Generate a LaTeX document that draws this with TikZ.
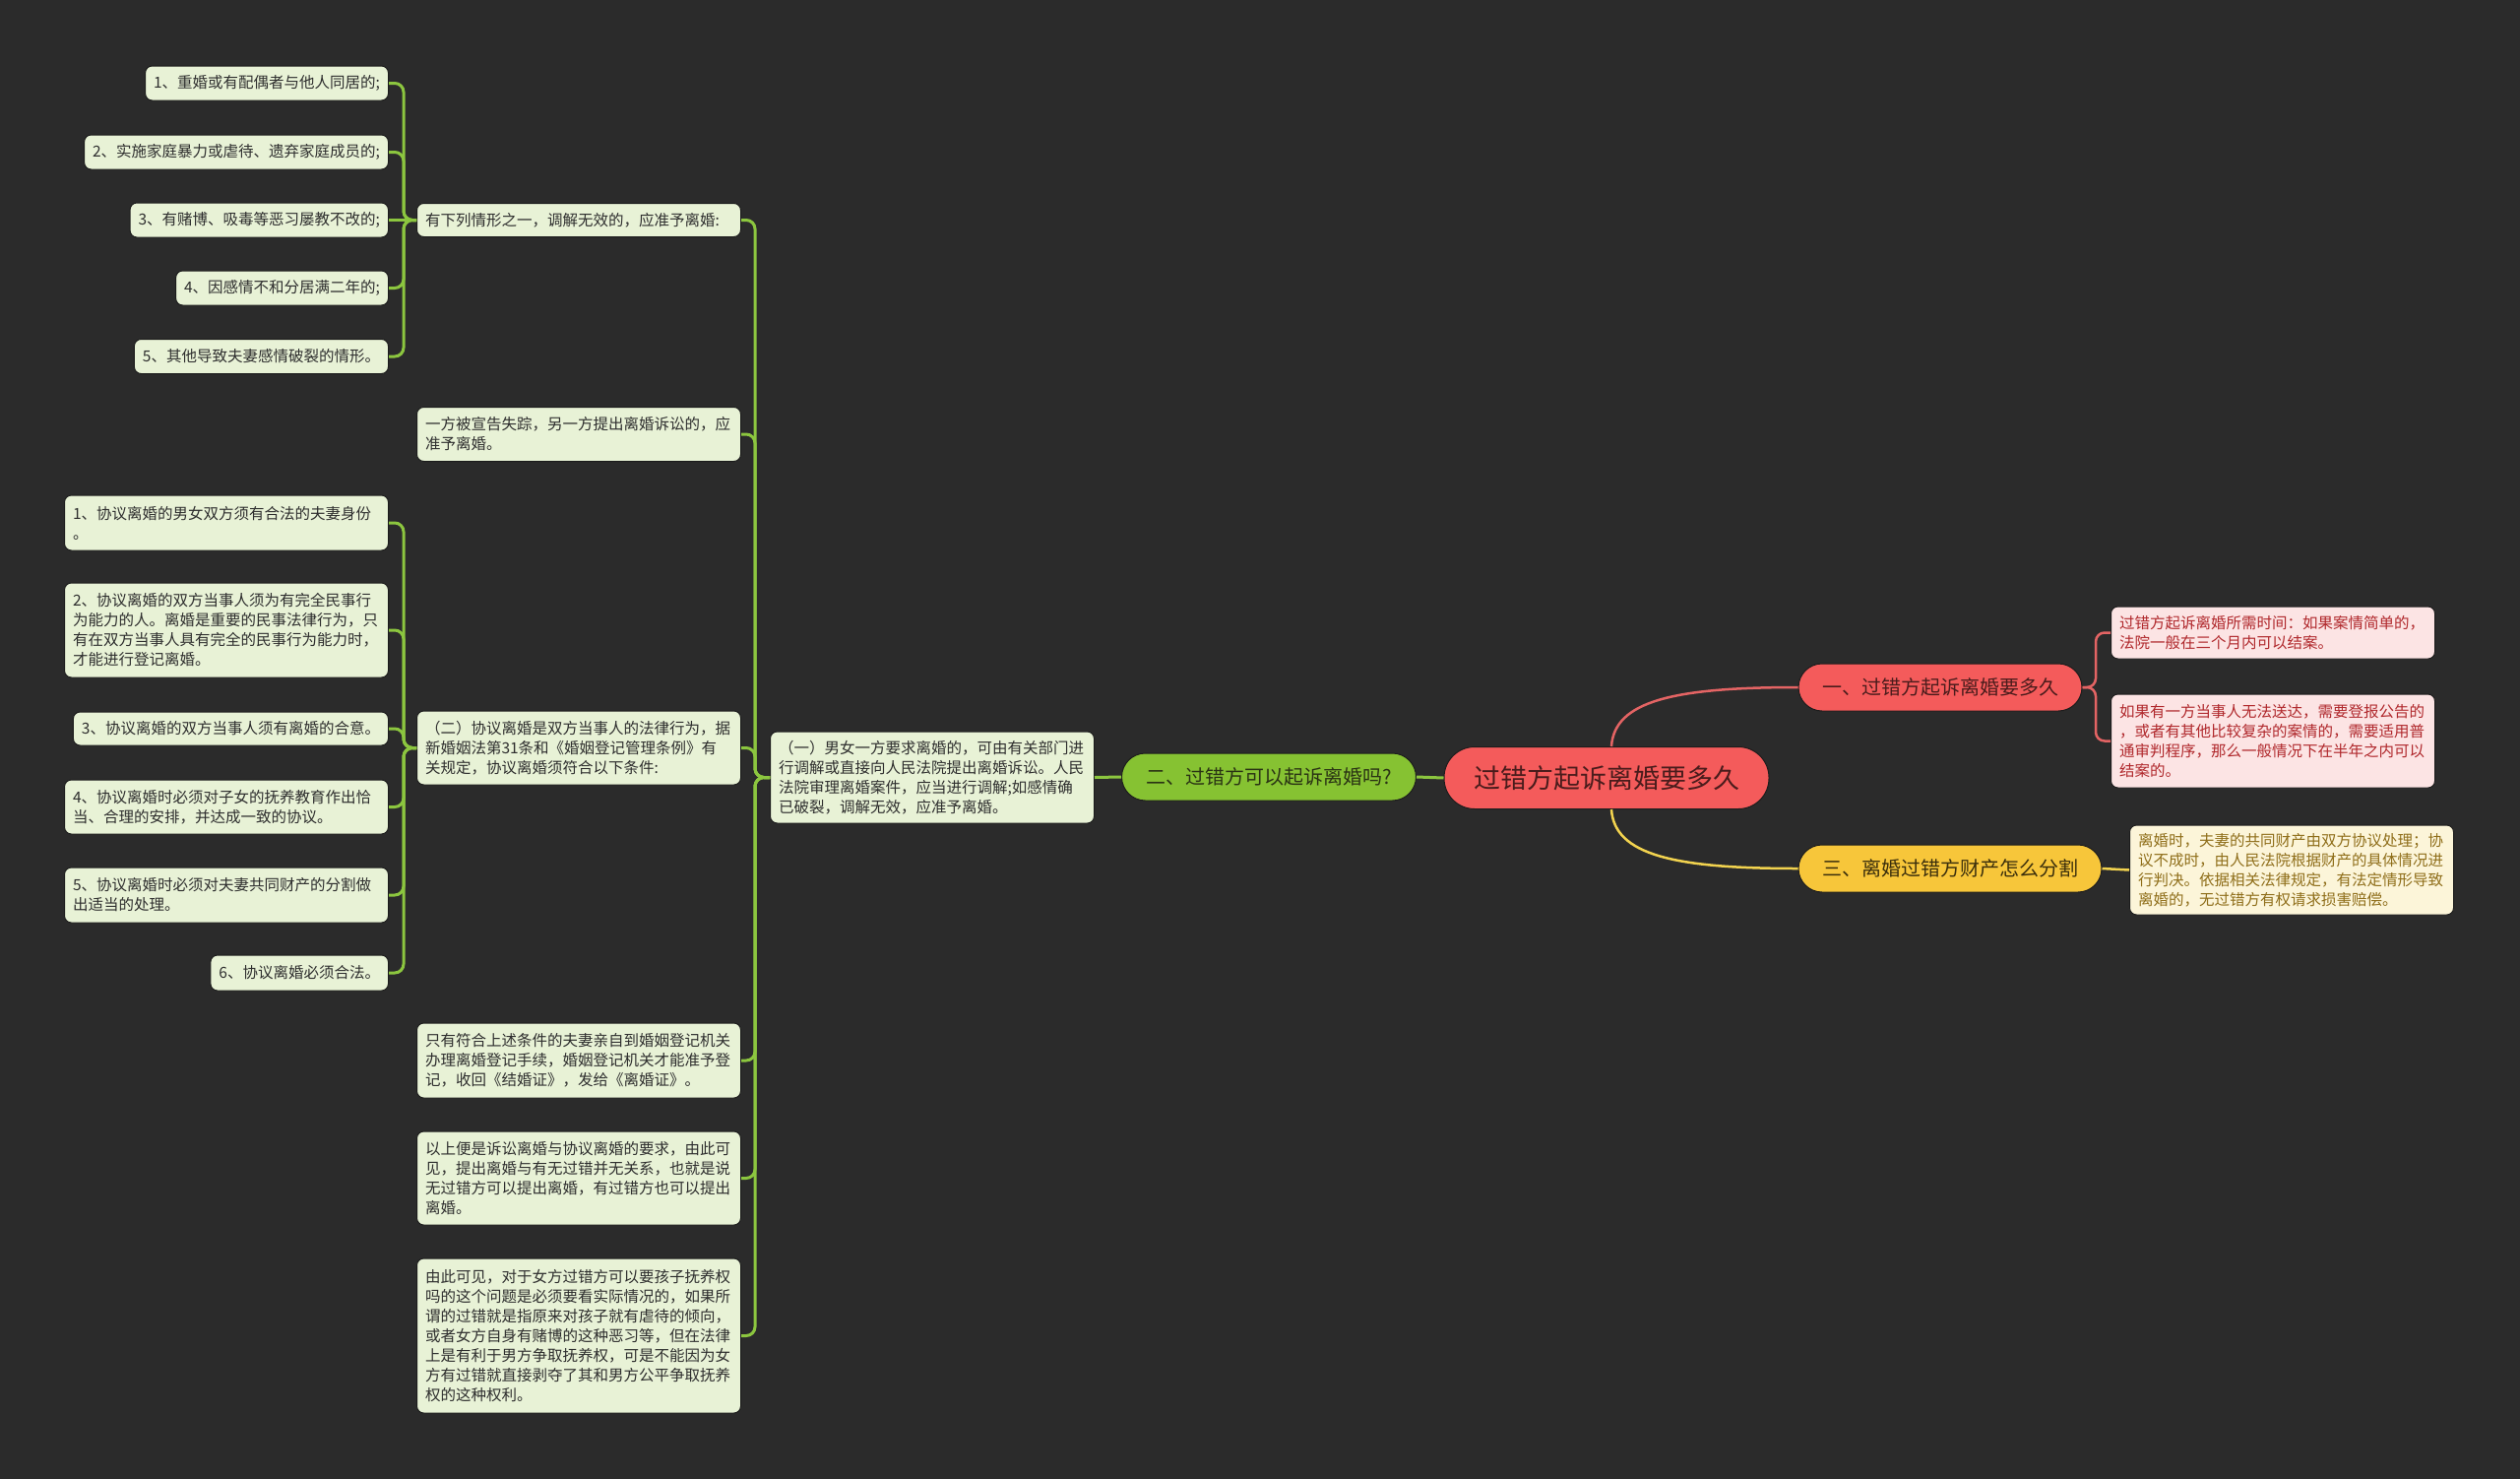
\documentclass[tikz,border=0pt]{standalone}
\usepackage{fontspec}
\setmainfont{Noto Sans CJK SC}
\usetikzlibrary{calc}
\definecolor{bg}{HTML}{2B2B2B}
\definecolor{glinec}{HTML}{8CC63F}
\definecolor{gpill}{HTML}{86C232}
\definecolor{gtext}{HTML}{2A3314}
\definecolor{leafgreen}{HTML}{E8F2D6}
\definecolor{leaftext}{HTML}{2E2E2E}
\definecolor{boxedge}{HTML}{1C1C1C}
\definecolor{rootred}{HTML}{F45B5B}
\definecolor{roottext}{HTML}{4A1C1C}
\definecolor{rlinec}{HTML}{E46464}
\definecolor{redleaf}{HTML}{FCE4E4}
\definecolor{redtext}{HTML}{B0282C}
\definecolor{ypill}{HTML}{F7C63A}
\definecolor{ytext}{HTML}{3A2E0C}
\definecolor{ylinec}{HTML}{F2D34F}
\definecolor{yleaf}{HTML}{FCF5D9}
\definecolor{yleaftext}{HTML}{8F6E1A}
\begin{document}
\begin{tikzpicture}[x=1pt,y=-1pt,
  leaf/.style={fill=leafgreen, draw=boxedge, line width=1pt, rounded corners=7pt,
    text=leaftext, font=\fontsize{15.5}{20}\selectfont, inner xsep=8.5pt, inner ysep=4pt, align=left},
  leafw/.style={leaf, text width=312pt},
  rleaf/.style={leafw, fill=redleaf, text=redtext},
  yleafs/.style={leafw, fill=yleaf, text=yleaftext},
  pill/.style={draw=boxedge, line width=1pt, minimum height=48pt, rounded corners=24pt,
    font=\fontsize{20}{24}\selectfont, inner sep=0pt},
  gline/.style={draw=glinec, line width=3pt, rounded corners=9pt},
  rline/.style={draw=rlinec, line width=2.5pt, rounded corners=9pt},
  yline/.style={draw=ylinec, line width=2.5pt}
]
\useasboundingbox (0,0) rectangle (2560,1502);
\fill[bg] (0,0) rectangle (2560,1502);

% ---- central and main branches
\node[pill, fill=rootred, text=roottext, minimum width=330pt, minimum height=63pt, rounded corners=31pt,
  font=\fontsize{27}{32}\selectfont] (root) at (1632,790) {过错方起诉离婚要多久};
\node[pill, fill=rootred, text=roottext, minimum width=288pt] (b1) at (1971,698) {一、过错方起诉离婚要多久};
\node[pill, fill=ypill, text=ytext, minimum width=308pt] (b3) at (1981,882) {三、离婚过错方财产怎么分割};
\node[pill, fill=gpill, text=gtext, minimum width=299pt] (b2) at (1289,789) {二、过错方可以起诉离婚吗?};

% ---- right leaves
\node[rleaf, anchor=west, minimum height=53pt] (R1) at (2144,642.5) {过错方起诉离婚所需时间：如果案情简单的，\\法院一般在三个月内可以结案。};
\node[rleaf, anchor=west, minimum height=95pt] (R2) at (2144,752.5) {如果有一方当事人无法送达，需要登报公告的\\，或者有其他比较复杂的案情的，需要适用普\\通审判程序，那么一般情况下在半年之内可以\\结案的。};
\node[yleafs, anchor=west, minimum height=91pt] (Y1) at (2163,883.5) {离婚时，夫妻的共同财产由双方协议处理；协\\议不成时，由人民法院根据财产的具体情况进\\行判决。依据相关法律规定，有法定情形导致\\离婚的，无过错方有权请求损害赔偿。};

% ---- level 2 (green)
\node[leafw, anchor=west, minimum height=93pt] (A) at (782,789.5) {（一）男女一方要求离婚的，可由有关部门进\\行调解或直接向人民法院提出离婚诉讼。人民\\法院审理离婚案件，应当进行调解;如感情确\\已破裂，调解无效，应准予离婚。};

\node[leafw, anchor=east, minimum height=34pt] (B1) at (753,223.5) {有下列情形之一，调解无效的，应准予离婚:};
\node[leafw, anchor=east, minimum height=55pt] (B2) at (753,441) {一方被宣告失踪，另一方提出离婚诉讼的，应\\准予离婚。};
\node[leafw, anchor=east, minimum height=75pt] (B3) at (753,759.5) {（二）协议离婚是双方当事人的法律行为，据\\新婚姻法第31条和《婚姻登记管理条例》有\\关规定，协议离婚须符合以下条件:};
\node[leafw, anchor=east, minimum height=76pt] (B4) at (753,1077) {只有符合上述条件的夫妻亲自到婚姻登记机关\\办理离婚登记手续，婚姻登记机关才能准予登\\记，收回《结婚证》，发给《离婚证》。};
\node[leafw, anchor=east, minimum height=95pt] (B5) at (753,1196.5) {以上便是诉讼离婚与协议离婚的要求，由此可\\见，提出离婚与有无过错并无关系，也就是说\\无过错方可以提出离婚，有过错方也可以提出\\离婚。};
\node[leafw, anchor=east, minimum height=157pt] (B6) at (753,1356.5) {由此可见，对于女方过错方可以要孩子抚养权\\吗的这个问题是必须要看实际情况的，如果所\\谓的过错就是指原来对孩子就有虐待的倾向，\\或者女方自身有赌博的这种恶习等，但在法律\\上是有利于男方争取抚养权，可是不能因为女\\方有过错就直接剥夺了其和男方公平争取抚养\\权的这种权利。};

% ---- level 3 under B1
\node[leaf, anchor=east, minimum height=35pt] (C1) at (395,84.5) {1、重婚或有配偶者与他人同居的;};
\node[leaf, anchor=east, minimum height=35pt] (C2) at (395,154.5) {2、实施家庭暴力或虐待、遗弃家庭成员的;};
\node[leaf, anchor=east, minimum height=35pt] (C3) at (395,223.5) {3、有赌博、吸毒等恶习屡教不改的;};
\node[leaf, anchor=east, minimum height=35pt] (C4) at (395,292.5) {4、因感情不和分居满二年的;};
\node[leaf, anchor=east, minimum height=35pt] (C5) at (395,362) {5、其他导致夫妻感情破裂的情形。};

% ---- level 3 under B3
\node[leafw, anchor=east, minimum height=56pt] (D1) at (395,531) {1、协议离婚的男女双方须有合法的夫妻身份\\。};
\node[leafw, anchor=east, minimum height=96pt] (D2) at (395,640) {2、协议离婚的双方当事人须为有完全民事行\\为能力的人。离婚是重要的民事法律行为，只\\有在双方当事人具有完全的民事行为能力时，\\才能进行登记离婚。};
\node[leaf, anchor=east, minimum height=34pt] (D3) at (395,740) {3、协议离婚的双方当事人须有离婚的合意。};
\node[leafw, anchor=east, minimum height=55pt] (D4) at (395,819.5) {4、协议离婚时必须对子女的抚养教育作出恰\\当、合理的安排，并达成一致的协议。};
\node[leafw, anchor=east, minimum height=56pt] (D5) at (395,909) {5、协议离婚时必须对夫妻共同财产的分割做\\出适当的处理。};
\node[leaf, anchor=east, minimum height=36pt] (D6) at (395,988) {6、协议离婚必须合法。};

% ---- trunk coordinates
\coordinate (tB) at (767,0);
\coordinate (tC) at (410,0);
\coordinate (tR) at (2129,0);

% ---- connectors
\draw[gline] (root.west) -- (b2.east);
\draw[gline] (b2.west) -- (A.east);
\foreach \n in {B1,B2,B3,B4,B5,B6}
  \draw[gline] (A.west) -- (A.west -| tB) -- (\n.east -| tB) -- (\n.east);
\foreach \n in {C1,C2,C4,C5}
  \draw[gline] (B1.west) -- (B1.west -| tC) -- (\n.east -| tC) -- (\n.east);
\draw[gline] (B1.west) -- (C3.east);
\foreach \n in {D1,D2,D3,D4,D5,D6}
  \draw[gline] (B3.west) -- (B3.west -| tC) -- (\n.east -| tC) -- (\n.east);

\draw[rline] ([xshift=5pt]root.north) .. controls (1640,712) and (1700,698) .. (b1.west);
\draw[yline] ([xshift=5pt]root.south) .. controls (1640,868) and (1700,882) .. (b3.west);
\foreach \n in {R1,R2}
  \draw[rline] (b1.east) -- (b1.east -| tR) -- (\n.west -| tR) -- (\n.west);
\draw[yline] (b3.east) -- (Y1.west);
\end{tikzpicture}
\end{document}
